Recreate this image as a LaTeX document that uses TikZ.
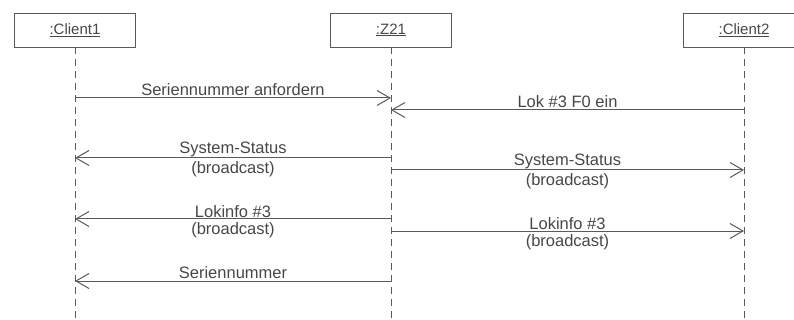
\documentclass[tikz,border=0pt]{standalone}
\usepackage{fontspec}
\setmainfont{Liberation Sans}
\usepackage{tikz}
\usetikzlibrary{arrows.meta}

\definecolor{linegray}{HTML}{5A5A5A}
\definecolor{textgray}{HTML}{474747}

\tikzset{
    obj/.style={draw=linegray,line width=0.9pt,minimum width=121pt,minimum height=34pt,inner sep=0pt,text=textgray,font=\fontsize{15}{16}\selectfont},
    life/.style={draw=linegray,line width=0.9pt,dash pattern=on 7pt off 5pt},
    msg/.style={draw=linegray,line width=1pt,-{Straight Barb[length=13pt,width=15pt,line width=1pt]}},
    lbl/.style={text=textgray,font=\fontsize{16.5}{17}\selectfont}
}

\begin{document}
\begin{tikzpicture}[x=1pt,y=1pt]
    \useasboundingbox (0,0) rectangle (794,-320);
    \node[obj] (client1) at (75,-30) {\underline{:Client1}};
    \node[obj] (z21) at (391,-30) {\underline{:Z21}};
    \node[obj] (client2) at (744,-30) {\underline{:Client2}};
    \draw[life] (client1.south) -- (client1.south |- 0,-320);
    \draw[life] (z21.south) -- (z21.south |- 0,-320);
    \draw[life] (client2.south) -- (client2.south |- 0,-320);

    % message ends on the lifelines
    \coordinate (a1) at (client1.south |- 0,-98);
    \coordinate (b1) at (z21.south |- 0,-98);
    \coordinate (b2) at (z21.south |- 0,-110);
    \coordinate (c2) at (client2.south |- 0,-110);
    \coordinate (a3) at (client1.south |- 0,-158);
    \coordinate (b3) at (z21.south |- 0,-158);
    \coordinate (b4) at (z21.south |- 0,-170);
    \coordinate (c4) at (client2.south |- 0,-170);
    \coordinate (a5) at (client1.south |- 0,-219);
    \coordinate (b5) at (z21.south |- 0,-219);
    \coordinate (b6) at (z21.south |- 0,-231);
    \coordinate (c6) at (client2.south |- 0,-231);
    \coordinate (a7) at (client1.south |- 0,-281);
    \coordinate (b7) at (z21.south |- 0,-281);

    \draw[msg] (a1) -- node[lbl,above,inner sep=2pt] {Seriennummer anfordern} (b1);
    \draw[msg] (c2) -- node[lbl,above,inner sep=2pt] {Lok \#3 F0 ein} (b2);
    \draw[msg] (b3) -- node[lbl,above,inner sep=1pt] {System-Status} node[lbl,below,inner sep=3pt] {(broadcast)} (a3);
    \draw[msg] (b4) -- node[lbl,above,inner sep=1pt] {System-Status} node[lbl,below,inner sep=3pt] {(broadcast)} (c4);
    \draw[msg] (b5) -- node[lbl,above,inner sep=1pt] {Lokinfo \#3} node[lbl,below,inner sep=3pt] {(broadcast)} (a5);
    \draw[msg] (b6) -- node[lbl,above,inner sep=1pt] {Lokinfo \#3} node[lbl,below,inner sep=3pt] {(broadcast)} (c6);
    \draw[msg] (b7) -- node[lbl,above,inner sep=2pt] {Seriennummer} (a7);
\end{tikzpicture}
\end{document}
